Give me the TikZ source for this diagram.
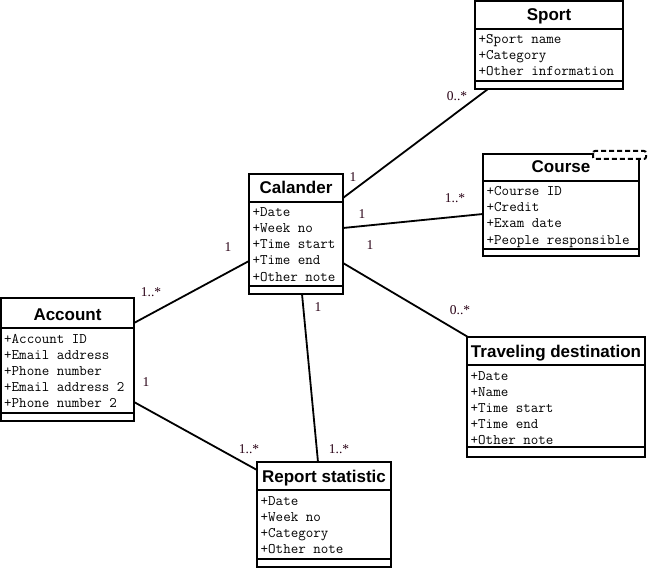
\documentclass[tikz,border=0pt]{standalone}
\usepackage{fontspec}
\setmainfont{Liberation Serif}
\newfontfamily\titlefam{Liberation Sans}
\newcommand\umlclass[8]{%
  \node[cbox, minimum width={(#4-#2)*1pt}, minimum height={(#5-#3)*1pt}] (#1) at (#2,#3) {};
  \draw[sepline] (#2,#6) -- (#4,#6);
  \draw[sepline] (#2,#7) -- (#4,#7);
  \node[ctitle] (#1-title) at ({(#2+#4)/2},{#6-8}) {#8};
}
\definecolor{labelcol}{RGB}{40,0,20}
\begin{document}
\begin{tikzpicture}[x=1pt,y=-1pt,
  cbox/.style={draw, line width=2pt, inner sep=0pt, outer sep=0pt, anchor=north west, fill=white},
  sepline/.style={line width=2pt},
  ctitle/.style={font=\titlefam\bfseries\fontsize{17}{18}\selectfont, anchor=base, inner sep=0pt},
  attr/.style={font=\ttfamily\fontsize{14.6}{16}\selectfont, anchor=base west, inner sep=0pt},
  mult/.style={font=\fontsize{13.5}{14}\selectfont, text=labelcol, inner sep=0pt},
  conn/.style={line width=1.8pt},
  tab/.style={draw, dashed, dash pattern=on 5pt off 3pt, line width=2pt, fill=white, rounded corners=2pt}]
\useasboundingbox (0,0) rectangle (650,569);

% classes
\umlclass{sport}{475}{1}{623}{89}{29}{81}{Sport}
\foreach \a [count=\i] in {+Sport name,+Category,+Other information}
  \node[attr] (sport-a\i) at (478.5,{44+16*(\i-1)}) {\a};

\umlclass{course}{483}{154}{639}{256}{181}{249}{Course}
\foreach \a [count=\i] in {+Course ID,+Credit,+Exam date,+People responsible}
  \node[attr] (course-a\i) at (486.5,{196+16*(\i-1)}) {\a};
\path[tab] (593,151) rectangle (646,159);

\umlclass{cal}{249}{174}{343}{294}{202}{286}{Calander}
\foreach \a [count=\i] in {+Date,+Week no,+Time start,+Time end,+Other note}
  \node[attr] (cal-a\i) at (252.5,{217+16*(\i-1)}) {\a};

\umlclass{acc}{1}{298}{134}{421}{328}{413}{Account}
\foreach \a [count=\i] in {+Account ID,+Email address,+Phone number,+Email address 2,+Phone number 2}
  \node[attr] (acc-a\i) at (4,{343+16*(\i-1)}) {\a};

\umlclass{trav}{467}{337}{645}{457}{365}{447}{Traveling destination}
\foreach \a [count=\i] in {+Date,+Name,+Time start,+Time end,+Other note}
  \node[attr] (trav-a\i) at (470.5,{380+16*(\i-1)}) {\a};

\umlclass{rep}{257}{462}{391}{567}{490}{559}{Report statistic}
\foreach \a [count=\i] in {+Date,+Week no,+Category,+Other note}
  \node[attr] (rep-a\i) at (260.5,{505+16*(\i-1)}) {\a};

% connectors
\draw[conn] ([yshift=-24pt]cal.north east) -- ([xshift=13pt]sport.south west);
\draw[conn] ([yshift=-54pt]cal.north east) -- ([yshift=-60pt]course.north west);
\draw[conn] ([yshift=-89pt]cal.north east) -- ([xshift=1pt]trav.north west);
\draw[conn] ([xshift=53pt]cal.south west) -- ([xshift=61pt]rep.north west);
\draw[conn] ([yshift=-25pt]acc.north east) -- ([yshift=-87pt]cal.north west);
\draw[conn] ([yshift=-104pt]acc.north east) -- ([yshift=-8pt]rep.north west);

% multiplicities
\node[mult] (m1) at (353,177) {1};
\node[mult] (m2) at (457,96) {0..*};
\node[mult] (m3) at (362,214) {1};
\node[mult] (m4) at (455,198) {1..*};
\node[mult] (m5) at (370,245) {1};
\node[mult] (m6) at (460,310) {0..*};
\node[mult] (m7) at (318,307) {1};
\node[mult] (m8) at (339,449) {1..*};
\node[mult] (m9) at (228,247) {1};
\node[mult] (m10) at (151,292) {1..*};
\node[mult] (m11) at (146,382) {1};
\node[mult] (m12) at (249,449) {1..*};
\end{tikzpicture}
\end{document}
